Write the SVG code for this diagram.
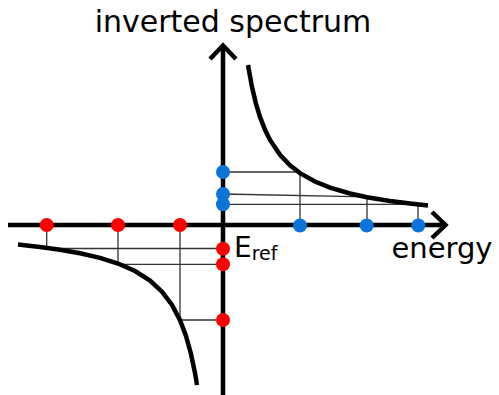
<svg xmlns="http://www.w3.org/2000/svg" width="499" height="395" viewBox="0 0 499 395">
<style>
.axis{stroke:#000;stroke-width:4.5;fill:none;stroke-linecap:butt;stroke-linejoin:miter}
.curve{stroke:#000;stroke-width:4.5;fill:none}
.guide{stroke:#333;stroke-width:1.3;fill:none}
.red{fill:#ff0000}
.blue{fill:#0a74da}
text{font-family:"DejaVu Sans","Liberation Sans",sans-serif;fill:#000}
</style>
<rect width="499" height="395" fill="#fff"/>
<g id="connectors">
<path class="guide" d="M223,172 H300 V225"/>
<path class="guide" d="M223,194 L367,196.8 M367,197.5 V225"/>
<path class="guide" d="M223,204.3 H418 V225"/>
<path class="guide" d="M46.7,225 V248.5 H223"/>
<path class="guide" d="M118,225 V264.3 H223"/>
<path class="guide" d="M180,225 V320 H223"/>
</g>
<g id="axes">
<path class="axis" d="M8,225 H445"/>
<path class="axis" d="M432,212 L445.5,225 L432,238"/>
<path class="axis" d="M223,395 V46"/>
<path class="axis" d="M210,59 L223,45.5 L236,59"/>
</g>
<g id="curves">
<path class="curve" d="M248,65 L252,87.1 L256,103.8 L260,116.9 L265,129.8 L270,139.9 L280,154.8 L290,165.3 L300,173.1 L315,181.5 L330,187.6 L350,193.5 L367,197.2 L390,201.05 L410,203.6 L428,205.5"/>
<path class="curve" d="M18,244.6 L40,247 L60,249.7 L80,253.2 L100,257.8 L118,263.5 L135,271 L150,280.6 L162,291.7 L172,305 L180,320.2 L186,336 L191,354 L195,373 L197,385"/>
</g>
<g id="blue-points">
<circle class="blue" cx="223" cy="172" r="7"/>
<circle class="blue" cx="223" cy="194" r="7"/>
<circle class="blue" cx="223" cy="204.3" r="7"/>
<circle class="blue" cx="300" cy="225.5" r="7"/>
<circle class="blue" cx="366.7" cy="225.5" r="7"/>
<circle class="blue" cx="418.3" cy="225.5" r="7"/>
</g>
<g id="red-points">
<circle class="red" cx="46.7" cy="225" r="7"/>
<circle class="red" cx="118" cy="225" r="7"/>
<circle class="red" cx="180" cy="225" r="7"/>
<circle class="red" cx="223" cy="248.7" r="7"/>
<circle class="red" cx="223" cy="264.3" r="7"/>
<circle class="red" cx="223" cy="320" r="7"/>
</g>
<g id="labels">
<text x="233" y="32" font-size="30" text-anchor="middle">inverted spectrum</text>
<text x="442" y="258" font-size="29" text-anchor="middle">energy</text>
<text x="234" y="257" font-size="28">E<tspan font-size="19" dy="2.5">ref</tspan></text>
</g>
</svg>
